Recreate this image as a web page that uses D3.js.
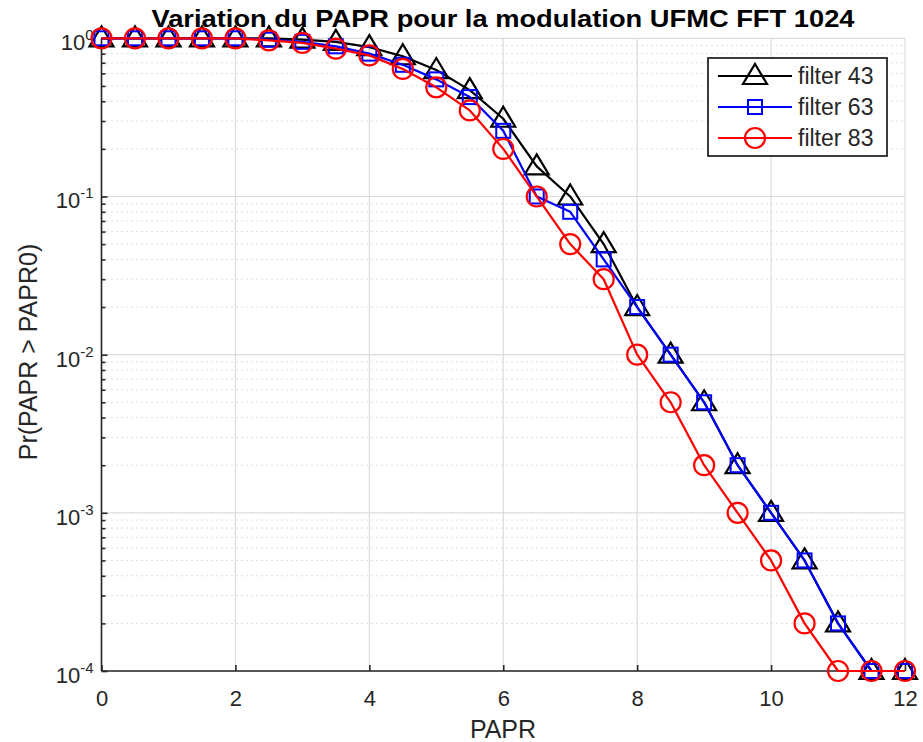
<!DOCTYPE html>
<html><head><meta charset="utf-8">
<script src="https://cdn.jsdelivr.net/npm/d3@7"></script>
<style>body{margin:0;background:#fff}svg{display:block}</style>
</head><body>
<svg id="c" width="923" height="742"></svg>
<script>
const papr = [0,0.5,1,1.5,2,2.5,3,3.5,4,4.5,5,5.5,6,6.5,7,7.5,8,8.5,9,9.5,10,10.5,11,11.5,12];
const filter43 = [1,1,1,1,1,1,0.98,0.95,0.88,0.77,0.63,0.47,0.31,0.155,0.1,0.05,0.02,0.01,0.005,0.002,0.001,0.0005,0.0002,0.0001,0.0001];
const filter63 = [1,1,1,1,1,0.98,0.95,0.89,0.8,0.68,0.55,0.425,0.26,0.1,0.08,0.04,0.02,0.01,0.005,0.002,0.001,0.0005,0.0002,0.0001,0.0001];
const filter83 = [1,1,1,1,1,0.97,0.935,0.86,0.78,0.64,0.49,0.35,0.2,0.1,0.05,0.03,0.01,0.005,0.002,0.001,0.0005,0.0002,0.0001,0.0001,0.0001];
const seriesNames = ["filter 43","filter 63","filter 83"];
const seriesColors = ["#000000","#0000ff","#ff0000"];
const seriesMarkers = ["triangle","square","circle"];
const xTicks = [0,2,4,6,8,10,12];
const yExps = [0,-1,-2,-3,-4];
const titleText = "Variation du PAPR pour la modulation UFMC FFT 1024";
const xLabel = "PAPR";
const yLabel = "Pr(PAPR > PAPR0)";

const svg = d3.select("#c");
const L = 101.5, R = 905, T = 38.3, B = 671;
const x = d3.scaleLinear().domain([0,12]).range([L,R]);
const y = d3.scaleLog().domain([1e-4,1]).range([B,T]);
const font = "'Liberation Sans', Arial, sans-serif";
const axisCol = "#262626";

// minor grid (dotted)
const minorVals = [];
for (let e=-4;e<0;e++) for (let m=2;m<=9;m++) minorVals.push(m*Math.pow(10,e));
svg.append("g").selectAll("line").data(minorVals).join("line")
  .attr("x1",L).attr("x2",R).attr("y1",d=>y(d)).attr("y2",d=>y(d))
  .attr("stroke","#bdbdbd").attr("stroke-width",1).attr("stroke-dasharray","1,4");
// major grid
svg.append("g").selectAll("line").data(yExps).join("line")
  .attr("x1",L).attr("x2",R).attr("y1",d=>y(Math.pow(10,d))).attr("y2",d=>y(Math.pow(10,d)))
  .attr("stroke","#dcdcdc").attr("stroke-width",1.2);
svg.append("g").selectAll("line").data(xTicks).join("line")
  .attr("x1",d=>x(d)).attr("x2",d=>x(d)).attr("y1",T).attr("y2",B)
  .attr("stroke","#dcdcdc").attr("stroke-width",1.2);

// axes
const xAxis = d3.axisBottom(x).tickValues(xTicks).tickSize(-6).tickPadding(0).tickFormat(d3.format("d"));
const gx = svg.append("g").attr("transform",`translate(0,${B})`).call(xAxis);
gx.select(".domain").attr("stroke",axisCol).attr("stroke-width",1.6).attr("d",`M${L},0H${R}`);
gx.selectAll(".tick line").attr("stroke",axisCol).attr("stroke-width",1.6);
gx.selectAll(".tick text").attr("font-family",font).attr("font-size",22).attr("fill",axisCol)
  .attr("dy",null).attr("y",35);

const allY = yExps.map(e=>Math.pow(10,e)).concat(minorVals);
const yAxis = d3.axisLeft(y).tickValues(allY).tickSize(0).tickFormat("");
const gy = svg.append("g").attr("transform",`translate(${L},0)`).call(yAxis);
gy.select(".domain").attr("stroke",axisCol).attr("stroke-width",1.6).attr("d",`M0,${B}V${T}`);
gy.selectAll(".tick line").remove();
gy.selectAll(".tick").append("line").attr("x1",0)
  .attr("x2",d=>yExps.some(e=>Math.abs(Math.pow(10,e)-d)<1e-12)?6:4)
  .attr("stroke",axisCol).attr("stroke-width",1.6);
// y tick labels 10^e
const lab = svg.append("g");
yExps.forEach(e=>{
  const t = lab.append("text").attr("x",L-8).attr("y",y(Math.pow(10,e))+12)
    .attr("text-anchor","end").attr("font-family",font).attr("font-size",22).attr("fill",axisCol);
  t.append("tspan").text("10");
  t.append("tspan").attr("dy",-10).attr("font-size",15).text(String(e));
});

// series
const seriesData = [filter43, filter63, filter83];
const line = d3.line().x((d,i)=>x(papr[i])).y(d=>y(d));
function marker(g, type, color, cx, cy){
  if (type==="triangle"){
    g.append("path").attr("d",`M${cx},${cy-12}L${cx+12},${cy+8}L${cx-12},${cy+8}Z`)
      .attr("fill","none").attr("stroke",color).attr("stroke-width",2.2);
  } else if (type==="square"){
    g.append("rect").attr("x",cx-7).attr("y",cy-7).attr("width",14).attr("height",14)
      .attr("fill","none").attr("stroke",color).attr("stroke-width",2);
  } else {
    g.append("circle").attr("cx",cx).attr("cy",cy).attr("r",10)
      .attr("fill","none").attr("stroke",color).attr("stroke-width",2.2);
  }
}
seriesData.forEach((vals,k)=>{
  const g = svg.append("g");
  g.append("path").datum(vals).attr("d",line).attr("fill","none")
    .attr("stroke",seriesColors[k]).attr("stroke-width",2.2).attr("stroke-linejoin","round");
  vals.forEach((v,i)=>marker(g, seriesMarkers[k], seriesColors[k], x(papr[i]), y(v)));
});

// title & labels
svg.append("text").attr("x",503).attr("y",27).attr("text-anchor","middle")
  .attr("font-family",font).attr("font-weight","bold").attr("font-size",24)
  .attr("textLength",703).attr("lengthAdjust","spacingAndGlyphs").attr("fill","#000").text(titleText);
svg.append("text").attr("x",503).attr("y",738).attr("text-anchor","middle")
  .attr("font-family",font).attr("font-size",25).attr("fill",axisCol).text(xLabel);
svg.append("text").attr("transform",`translate(37,352) rotate(-90)`).attr("text-anchor","middle")
  .attr("font-family",font).attr("font-size",25).attr("fill",axisCol).text(yLabel);

// legend
const lg = svg.append("g");
lg.append("rect").attr("x",708).attr("y",58).attr("width",179).attr("height",98)
  .attr("fill","#fff").attr("stroke",axisCol).attr("stroke-width",1.8);
seriesNames.forEach((n,k)=>{
  const yy = 76 + k*31;
  lg.append("line").attr("x1",718).attr("x2",792).attr("y1",yy).attr("y2",yy)
    .attr("stroke",seriesColors[k]).attr("stroke-width",2.2);
  marker(lg, seriesMarkers[k], seriesColors[k], 755, yy);
  lg.append("text").attr("x",798).attr("y",yy+8).attr("font-family",font).attr("font-size",23)
    .attr("fill",axisCol).text(n);
});
</script>
</body></html>
